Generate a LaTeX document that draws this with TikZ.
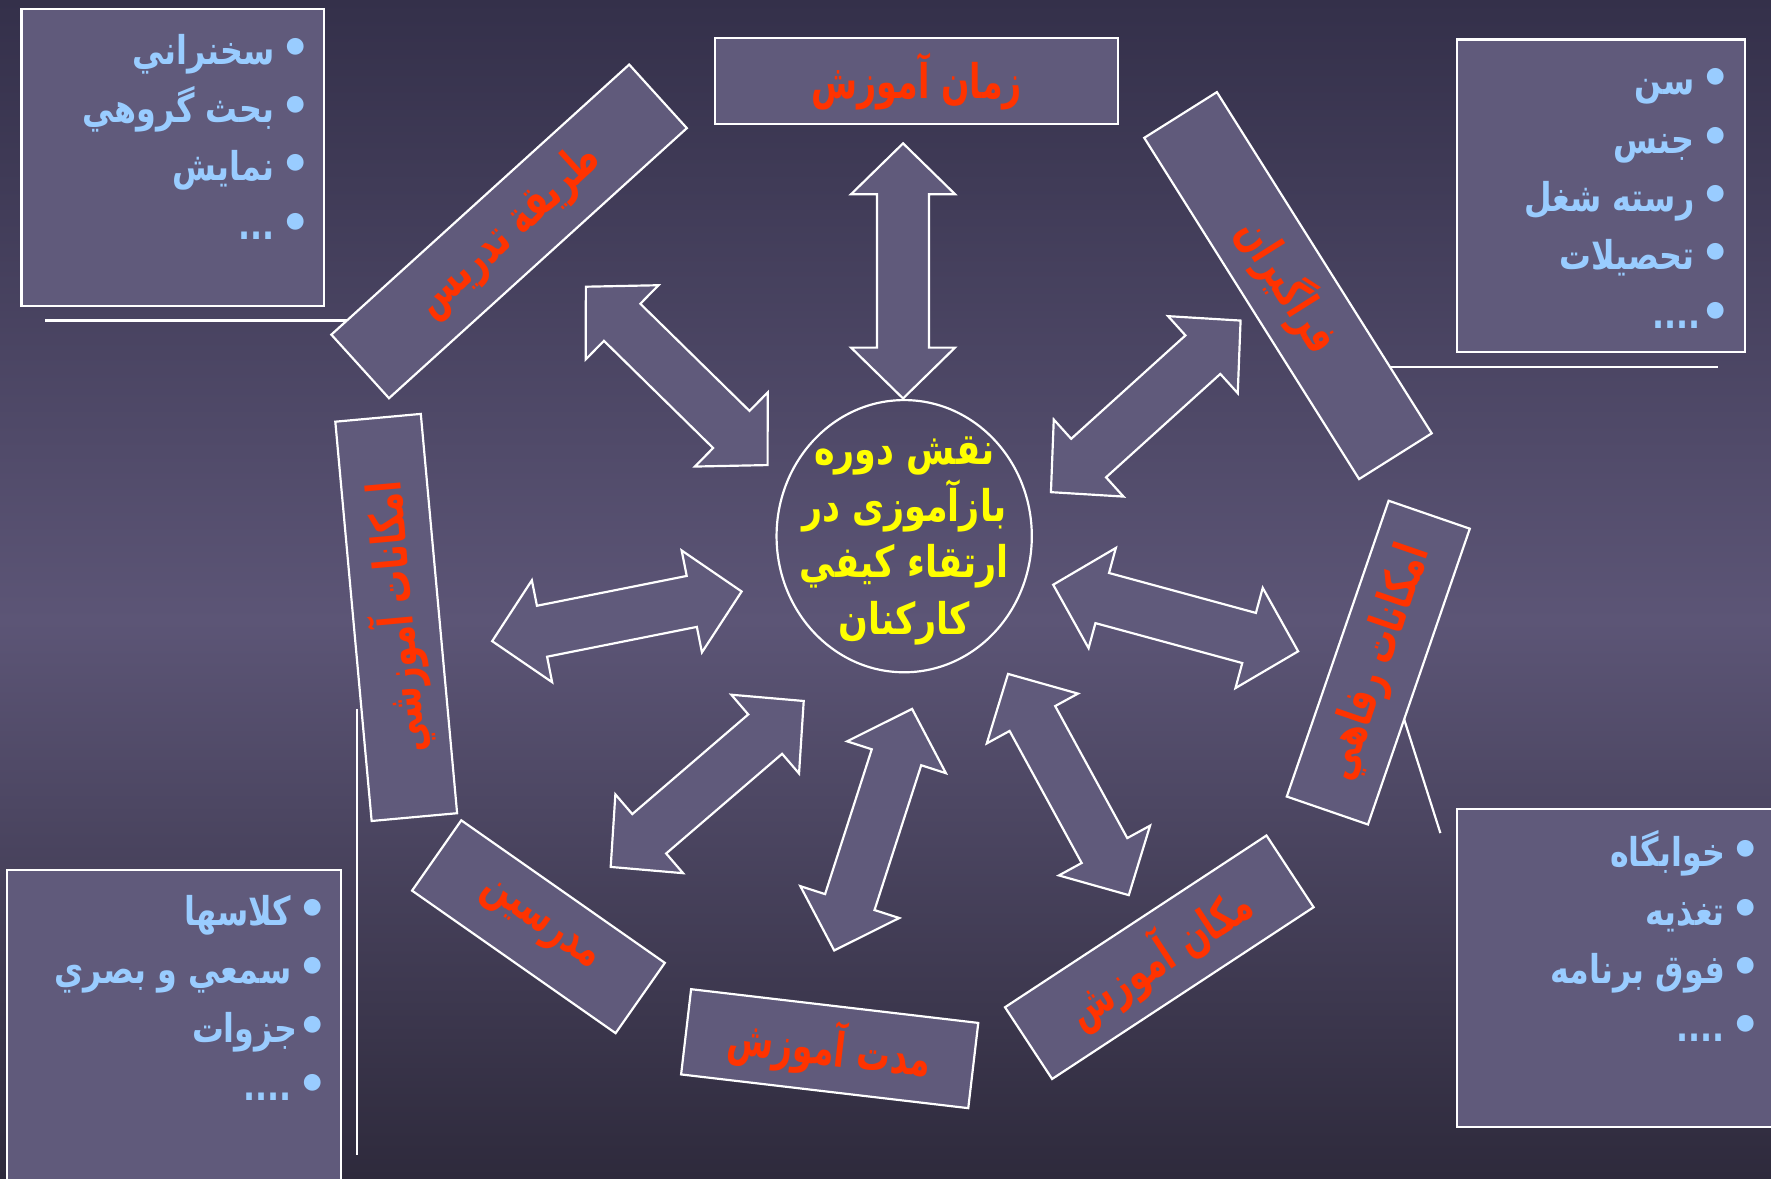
\documentclass[tikz,border=0pt]{standalone}
\usepackage{fontspec}
\usetikzlibrary{shapes.geometric, calc, positioning}
\newfontfamily\arabicfont[Script=Arabic, FakeStretch=0.8]{DejaVu Sans}
\newfontfamily\tagfont[Script=Arabic, FakeStretch=0.7]{DejaVu Sans}
\newfontfamily\plainfont{DejaVu Sans}
\TeXXeTstate=1

\definecolor{bgtop}{HTML}{34304A}
\definecolor{bgmid}{HTML}{5C5576}
\definecolor{bgbottom}{HTML}{2E2A3C}
\definecolor{boxfill}{HTML}{605A7B}
\definecolor{itemblue}{HTML}{99CCFF}
\definecolor{labelred}{HTML}{FF3300}
\definecolor{coreyellow}{HTML}{FFFF00}

\newcommand{\bul}{{\plainfont\fontsize{12}{14}\selectfont •}}

% double headed block arrow between two tips
\newcommand{\dblarrow}[2]{%
  \draw[blockarrow] (#1)
    -- ($(#1)!0.45cm!(#2)!0.46cm!90:(#2)$)
    -- ($(#1)!0.45cm!(#2)!0.23cm!90:(#2)$)
    -- ($(#2)!0.45cm!(#1)!0.23cm!-90:(#1)$)
    -- ($(#2)!0.45cm!(#1)!0.46cm!-90:(#1)$)
    -- (#2)
    -- ($(#2)!0.45cm!(#1)!0.46cm!90:(#1)$)
    -- ($(#2)!0.45cm!(#1)!0.23cm!90:(#1)$)
    -- ($(#1)!0.45cm!(#2)!0.23cm!-90:(#2)$)
    -- ($(#1)!0.45cm!(#2)!0.46cm!-90:(#2)$)
    -- cycle;}

\begin{document}
\begin{tikzpicture}[
  x=0.01cm, y=-0.01cm,
  box/.style={draw=white, fill=boxfill, line width=0.55pt},
  tag/.style={box, inner sep=0pt, minimum height=0.76cm, text=labelred,
    font=\tagfont\bfseries\fontsize{12}{14}\selectfont},
  items/.style={anchor=north east, inner sep=0pt, align=right, text=itemblue,
    font=\arabicfont\bfseries\fontsize{10}{14.7}\selectfont},
  blockarrow/.style={box, line join=miter},
  core/.style={ellipse, draw=white, line width=0.55pt,
    minimum width=2.26cm, minimum height=2.41cm, inner sep=0pt},
  coretext/.style={align=center, text=coreyellow, yshift=-1.2pt,
    font=\arabicfont\bfseries\fontsize{11}{14.2}\selectfont}]

  \shade[top color=bgtop, bottom color=bgmid] (0cm,0cm) rectangle (15.68cm,-5.5cm);
  \shade[top color=bgmid, bottom color=bgbottom] (0cm,-5.49cm) rectangle (15.68cm,-10.43cm);
  \useasboundingbox (0,0) rectangle (1568,1043);

  % lists
  \node[box, anchor=north west, minimum width=2.68cm, minimum height=2.63cm] (methodbox) at (18,7) {};
  \node[box, anchor=north west, minimum width=2.55cm, minimum height=2.77cm] (learnerbox) at (1290,34) {};
  \node[box, anchor=north west, minimum width=2.96cm, minimum height=2.90cm] (toolbox) at (5,770) {};
  \node[box, anchor=north west, minimum width=2.90cm, minimum height=2.81cm] (welfarebox) at (1290,716) {};

  \node[items] (methodlist) at (276,20) {\strut\beginR\bul\kern1.5pt سخنراني\endR\\
    \beginR\bul\kern1.5pt بحث گروهي\endR\\ \beginR\bul\kern1.5pt نمايش\endR\\ \beginR\bul\kern1.5pt ...\endR};
  \node[items] (learnerlist) at (1534,47) {\strut\beginR\bul\kern1.5pt سن\endR\\
    \beginR\bul\kern1.5pt جنس\endR\\ \beginR\bul\kern1.5pt رسته شغل\endR\\ \beginR\bul\kern1.5pt تحصيلات\endR\\ \beginR\bul....\endR};
  \node[items] (toollist) at (291,783) {\strut\beginR\bul\kern1.5pt كلاسها\endR\\
    \beginR\bul\kern1.5pt سمعي و بصري\endR\\ \beginR\bul جزوات\endR\\ \beginR\bul\kern1.5pt ....\endR};
  \node[items] (welfarelist) at (1561,731) {\strut\beginR\bul\kern1.5pt خوابگاه\endR\\
    \beginR\bul\kern1.5pt تغذيه\endR\\ \beginR\bul\kern1.5pt فوق برنامه\endR\\ \beginR\bul\kern1.5pt ....\endR};

  \draw[white, line width=0.55pt] (40,284) -- (348,284);
  \draw[white, line width=0.55pt] (1195,325) -- (1522,325);
  \draw[white, line width=0.55pt] (316,628) -- (316,1023);
  \draw[white, line width=0.55pt] (1240,625) -- (1276,738);

  % factors round the core
  \node[tag, minimum width=3.57cm] (timing) at (812,72) {\beginR زمان آموزش\endR};
  \node[tag, minimum width=3.56cm, rotate=42.2] (method) at (451,205) {\beginR طريقة تدريس\endR};
  \node[tag, minimum width=3.57cm, rotate=-57.8] (learners) at (1141,253) {\beginR فراگيران\endR};
  \node[tag, minimum width=3.55cm, rotate=95.2] (facilities) at (351,547) {\beginR امكانات آموزشي\endR};
  \node[tag, minimum width=2.77cm, rotate=71] (welfare) at (1221,587) {\beginR امكانات رفاهي\endR};
  \node[tag, minimum width=2.20cm, rotate=-35] (teachers) at (477,821) {\beginR مدرسين\endR};
  \node[tag, minimum width=2.56cm, rotate=-6.7] (duration) at (735,929) {\beginR مدت آموزش\endR};
  \node[tag, minimum width=2.77cm, rotate=33.3] (venue) at (1027,848) {\beginR مكان آموزش\endR};

  \node[core, label={[coretext]center:{\beginR نقش دوره\endR\\ \beginR بازآموزی در\endR\\
    \beginR ارتقاء كيفي\endR\\ \beginR كاركنان\endR}}] (core) at (801,475) {};

  % arrow tips
  \coordinate (timeA) at (800,127);   \coordinate (timeB) at (800,353);
  \coordinate (methA) at (519,254);   \coordinate (methB) at (680,412);
  \coordinate (learnA) at (1099,284); \coordinate (learnB) at (931,436);
  \coordinate (facA) at (436,568);    \coordinate (facB) at (657,524);
  \coordinate (welfA) at (1150,577);  \coordinate (welfB) at (933,518);
  \coordinate (teachA) at (541,768);  \coordinate (teachB) at (712,621);
  \coordinate (durA) at (739,842);    \coordinate (durB) at (808,628);
  \coordinate (venA) at (1000,793);   \coordinate (venB) at (893,597);

  \foreach \a/\b in {timeA/timeB, methA/methB, learnA/learnB, facA/facB,
                     welfA/welfB, teachA/teachB, durA/durB, venA/venB}
    \dblarrow{\a}{\b};
\end{tikzpicture}
\end{document}
